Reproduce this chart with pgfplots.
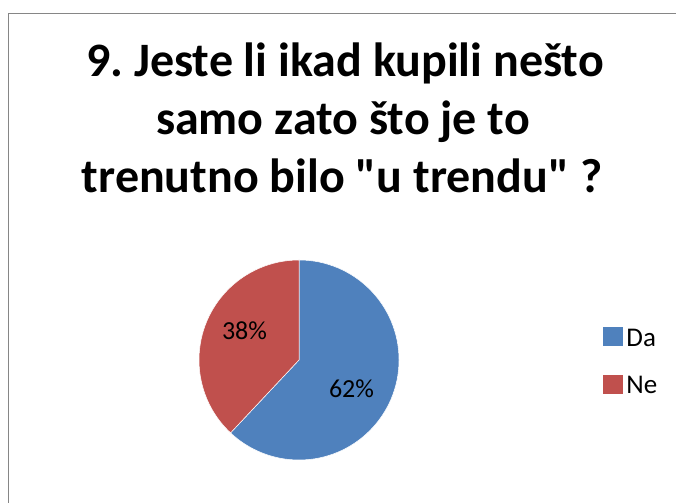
\documentclass[border=0pt]{standalone}
\usepackage{pgfplots}
\pgfplotsset{compat=1.18}
\usepackage{pgfplotstable}
\usepackage{fontspec}
\setmainfont{Carlito}[Ligatures=TeXOff]
\frenchspacing
\definecolor{daBlue}{HTML}{4F81BD}
\definecolor{neRed}{HTML}{C0504D}
\definecolor{frame}{HTML}{868686}
\pgfplotstableread{
label value
Da 62
Ne 38
}\piedata
\newcommand\tfont{\fontsize{48bp}{57bp}\selectfont\bfseries}
\begin{document}
\begin{tikzpicture}[x=1bp,y=1bp]
\path[use as bounding box] (0,0) rectangle (676,503);
\draw[frame, line width=1.5bp] (8.5,0) -- (8.5,489.5) -- (676,489.5);
\node[font=\tfont, anchor=base, inner sep=0pt] at (345,426.3) {9. Jeste li ikad kupili nešto};
\node[font=\tfont, anchor=base, inner sep=0pt] at (343,368) {samo zato što je to};
\node[font=\tfont, anchor=base, inner sep=0pt] at (342,310) {trenutno bilo "u trendu" ?};
\pgfplotstablegetelem{0}{value}\of\piedata \let\vDa\pgfplotsretval
\pgfplotstablegetelem{1}{value}\of\piedata \let\vNe\pgfplotsretval
\pgfmathsetmacro{\aStart}{90}
\pgfmathsetmacro{\aMid}{90-3.6*\vDa}
\pgfmathsetmacro{\aEnd}{\aMid-3.6*\vNe}
\begin{axis}[at={(299bp,143bp)}, anchor=center, scale only axis,
  width=200bp, height=200bp, xmin=-1, xmax=1, ymin=-1, ymax=1, hide axis, clip=false,
  legend style={at={(axis cs:3.04,0.33)}, anchor=north west, draw=none, fill=none,
    font=\fontsize{27bp}{33bp}\selectfont,
    row sep=27bp, legend cell align=left, inner sep=0pt, outer sep=0pt,
    nodes={inner sep=0pt, outer sep=0pt}},
  legend image code/.code={\fill[#1] (0bp,-7bp) rectangle (19bp,11bp);}]
\addlegendimage{daBlue}\addlegendentry{\hspace{4bp}Da}
\addlegendimage{neRed}\addlegendentry{\hspace{4bp}Ne}
\fill[daBlue, draw=white, line width=0.5bp] (axis cs:0,0) -- (axis cs:{cos(\aStart)},{sin(\aStart)}) arc[start angle=\aStart, end angle=\aMid, radius=100bp] -- cycle;
\fill[neRed, draw=white, line width=0.5bp] (axis cs:0,0) -- (axis cs:{cos(\aMid)},{sin(\aMid)}) arc[start angle=\aMid, end angle=\aEnd, radius=100bp] -- cycle;
\node[font=\fontsize{26bp}{30bp}\selectfont, anchor=base, inner sep=0pt] at (axis cs:0.525,-0.38) {\vDa\%};
\node[font=\fontsize{26bp}{30bp}\selectfont, anchor=base, inner sep=0pt] at (axis cs:-0.545,0.20) {\vNe\%};
\end{axis}
\end{tikzpicture}
\end{document}
